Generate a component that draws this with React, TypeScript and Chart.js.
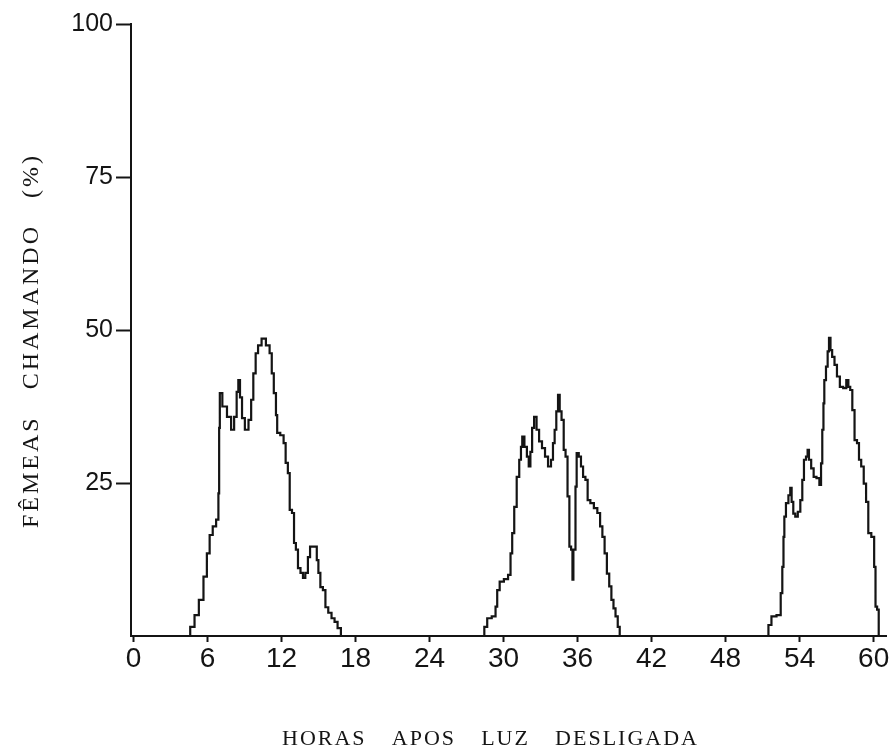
import React, { useEffect, useRef } from 'react';
import { Chart, registerables } from 'chart.js';

Chart.register(...registerables);

// ---------- data ----------
const xTickValues = [0, 6, 12, 18, 24, 30, 36, 42, 48, 54, 60];
const yTickValues = [25, 50, 75, 100];
const xAxisTitleWords = ['HORAS', 'APOS', 'LUZ', 'DESLIGADA'];
const yAxisTitleWords = ['FÊMEAS', 'CHAMANDO', '(%)'];

// first dark period
const night1Hours = [
  4.4, 4.8, 5.1, 5.5, 5.85, 6.05, 6.3, 6.55, 6.85, 6.92, 6.97, 7.03, 7.38, 7.78, 8.05, 8.27,
  8.46, 8.54, 8.73, 8.87, 9.19, 9.46, 9.62, 9.81, 10.0, 10.2, 10.57, 10.9, 11.17, 11.25, 11.5,
  11.6, 11.7, 12.1, 12.24, 12.43, 12.6, 12.73, 12.97, 13.06, 13.27, 13.4, 13.68, 13.8, 14.06,
  14.22, 14.41, 14.82, 14.9, 15.08, 15.22, 15.49, 15.63, 15.95, 16.16, 16.44, 16.65, 16.98,
];
const night1Values = [
  0, 1.5, 3.4, 5.9, 9.7, 13.5, 16.5, 17.9, 19, 23.3, 34, 39.7, 37.5, 35.8, 33.7, 35.8,
  39.9, 41.8, 39, 35.6, 33.7, 35.3, 38.6, 42.9, 46.2, 47.5, 48.6, 47.5, 46.2, 42.9, 39.7,
  36.1, 33.2, 32.8, 31.5, 28.3, 26.6, 20.6, 20.1, 15.2, 14.1, 11.1, 10.3, 9.5, 10.3,
  12.9, 14.6, 14.6, 12.4, 10.3, 8.0, 7.5, 4.7, 3.8, 2.9, 2.3, 1.3, 0,
];

// second dark period
const night2Hours = [
  28.33, 28.55, 28.8, 29.28, 29.42, 29.55, 29.82, 30.23, 30.5, 30.63, 30.77, 30.96, 31.17,
  31.37, 31.45, 31.58, 31.8, 31.98, 32.1, 32.25, 32.38, 32.57, 32.78, 32.98, 33.25, 33.47,
  33.74, 33.95, 34.06, 34.22, 34.33, 34.5, 34.6, 34.8, 34.95, 35.1, 35.27, 35.4, 35.55,
  35.62, 35.7, 35.8, 35.86, 35.99, 36.2, 36.35, 36.54, 36.73, 36.9, 37.17, 37.47, 37.73,
  37.92, 38.1, 38.28, 38.47, 38.66, 38.82, 39.0, 39.15, 39.36, 39.47,
];
const night2Values = [
  0, 1.5, 2.9, 3.2, 4.8, 7.5, 8.9, 9.3, 10, 13.5, 16.8, 21.1, 26,
  28.8, 30.9, 32.6, 30.9, 29.3, 27.7, 30.1, 34, 35.8, 33.7, 31.8, 30.7, 29.3,
  27.7, 28.8, 31.5, 33.7, 36.7, 39.4, 36.7, 35.3, 30.4, 29.3, 22.8, 14.6, 14.1,
  9.2, 14.1, 14.1, 24.4, 29.9, 29.3, 27.7, 26, 25.5, 22.2, 21.7, 20.9, 20.1,
  17.9, 16.2, 13.5, 10.2, 8.1, 5.9, 4.5, 3.2, 1.5, 0,
];

// third dark period
const night3Hours = [
  51.36, 51.58, 51.85, 52.4, 52.53, 52.66, 52.72, 52.8, 52.98, 53.2, 53.28, 53.42, 53.55,
  53.74, 53.96, 54.15, 54.28, 54.42, 54.61, 54.68, 54.83, 55.04, 55.23, 55.5, 55.7, 55.77,
  55.9, 55.96, 56.04, 56.23, 56.31, 56.45, 56.55, 56.72, 56.93, 57.12, 57.4, 57.66, 57.9,
  58.0, 58.2, 58.34, 58.56, 58.74, 58.88, 59.1, 59.29, 59.48, 59.65, 59.97, 60.11, 60.19,
  60.37, 60.45,
];
const night3Values = [
  0, 1.8, 3.2, 3.4, 7, 11.3, 16.2, 19.5, 21.7, 23, 24.2, 21.9, 20,
  19.5, 20.3, 22.2, 25.5, 28.8, 29.3, 30.4, 28.8, 27.4, 26, 25.8, 24.7, 28.2,
  33.7, 38, 41.8, 44, 46.5, 48.7, 46.7, 45.6, 44.3, 42.4, 40.7, 40.5, 41.8,
  40.7, 40.2, 36.9, 32, 31.5, 28.8, 27.7, 24.9, 21.9, 16.8, 16.2, 11.3, 4.8,
  4.3, 0,
];

// ---------- helpers ----------
const toPoints = (hours: number[], values: number[]) =>
  hours.map((h, i) => ({ x: h, y: values[i] }));

const INK = '#141414';

function drawSpacedWords(
  ctx: CanvasRenderingContext2D,
  words: string[],
  font: string,
  letterSpacing: number,
  length: number
) {
  ctx.font = font;
  const widths = words.map((w) => {
    let s = 0;
    for (const ch of w) s += ctx.measureText(ch).width;
    return s + letterSpacing * (w.length - 1);
  });
  const total = widths.reduce((a, b) => a + b, 0);
  const gap = words.length > 1 ? (length - total) / (words.length - 1) : 0;
  let x = 0;
  words.forEach((w) => {
    for (const ch of w) {
      ctx.fillText(ch, x, 0);
      x += ctx.measureText(ch).width + letterSpacing;
    }
    x = x - letterSpacing + gap;
  });
}

const axisTitlesPlugin = {
  id: 'axisTitles',
  afterDraw(chart: any, _args: any, opts: any) {
    const ctx: CanvasRenderingContext2D = chart.ctx;
    ctx.save();
    ctx.fillStyle = INK;
    ctx.textBaseline = 'alphabetic';
    ctx.textAlign = 'left';
    // x title
    ctx.save();
    ctx.translate(opts.x.left, opts.x.baseline);
    drawSpacedWords(ctx, opts.x.words, opts.x.font, opts.x.letterSpacing, opts.x.right - opts.x.left);
    ctx.restore();
    // y title (rotated)
    ctx.save();
    ctx.translate(opts.y.baseline, opts.y.bottom);
    ctx.rotate(-Math.PI / 2);
    drawSpacedWords(ctx, opts.y.words, opts.y.font, opts.y.letterSpacing, opts.y.bottom - opts.y.top);
    ctx.restore();
    ctx.restore();
  },
};

export default function App() {
  const canvasRef = useRef<HTMLCanvasElement | null>(null);

  useEffect(() => {
    if (!canvasRef.current) return;
    const lineStyle = {
      borderColor: INK,
      borderWidth: 2.2,
      pointRadius: 0,
      fill: false,
      stepped: 'middle' as const,
      tension: 0,
    };
    const chart = new Chart(canvasRef.current, {
      type: 'line',
      data: {
        datasets: [
          { ...lineStyle, data: toPoints(night1Hours, night1Values) },
          { ...lineStyle, data: toPoints(night2Hours, night2Values) },
          { ...lineStyle, data: toPoints(night3Hours, night3Values) },
        ],
      },
      options: {
        responsive: false,
        animation: false,
        layout: { padding: { top: 24, right: 7, left: 0, bottom: 0 } },
        plugins: {
          legend: { display: false },
          tooltip: { enabled: false },
          title: { display: false },
          axisTitles: {
            x: {
              words: xAxisTitleWords,
              font: '22px "Liberation Serif", "DejaVu Serif", serif',
              letterSpacing: 2,
              left: 282,
              right: 697,
              baseline: 745,
            },
            y: {
              words: yAxisTitleWords,
              font: '24px "Liberation Serif", "DejaVu Serif", serif',
              letterSpacing: 3,
              top: 156,
              bottom: 528,
              baseline: 38,
            },
          },
        } as any,
        scales: {
          x: {
            type: 'linear',
            min: -0.2,
            max: 61,
            afterBuildTicks: (scale: any) => {
              scale.ticks = xTickValues.map((v) => ({ value: v }));
            },
            afterFit: (scale: any) => {
              scale.height = 113;
            },
            ticks: {
              autoSkip: false,
              maxRotation: 0,
              color: INK,
              padding: 0,
              font: { family: '"Liberation Sans", Arial, sans-serif', size: 28 },
              callback: (v: any) => String(v),
            },
            grid: {
              drawOnChartArea: false,
              drawTicks: true,
              tickLength: 6,
              tickColor: INK,
              tickWidth: 2,
            },
            border: { display: true, color: INK, width: 2 },
          },
          y: {
            type: 'linear',
            min: 0,
            max: 100,
            afterBuildTicks: (scale: any) => {
              scale.ticks = yTickValues.map((v) => ({ value: v }));
            },
            afterFit: (scale: any) => {
              scale.width = 131;
            },
            ticks: {
              autoSkip: false,
              color: INK,
              padding: 3,
              font: { family: '"Liberation Sans", Arial, sans-serif', size: 25 },
              callback: (v: any) => String(v),
            },
            grid: {
              drawOnChartArea: false,
              drawTicks: true,
              tickLength: 15,
              tickColor: INK,
              tickWidth: 2,
            },
            border: { display: true, color: INK, width: 2 },
          },
        },
      },
      plugins: [axisTitlesPlugin],
    });
    return () => chart.destroy();
  }, []);

  return (
    <div
      style={{
        position: 'fixed',
        left: 0,
        top: 0,
        width: 893,
        height: 749,
        background: '#ffffff',
      }}
    >
      <canvas ref={canvasRef} width={893} height={749} style={{ display: 'block' }} />
    </div>
  );
}
